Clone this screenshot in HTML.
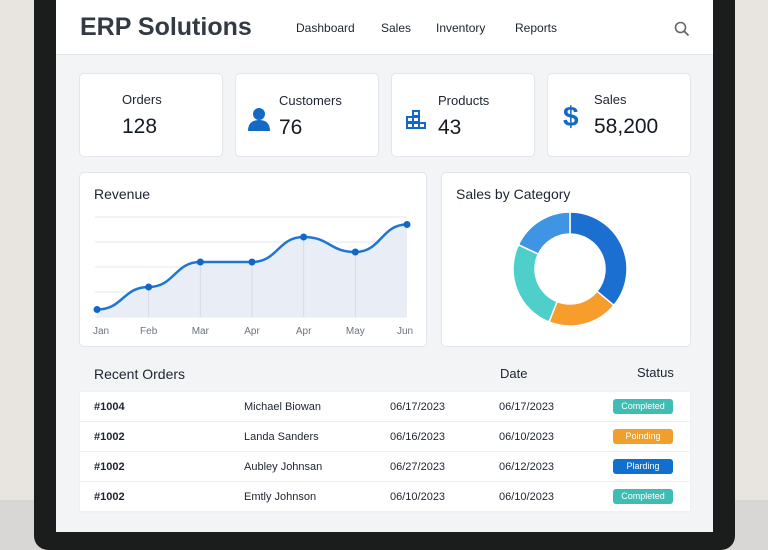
<!DOCTYPE html>
<html><head><meta charset="utf-8"><style>
*{box-sizing:border-box;margin:0;padding:0}
body{width:768px;height:550px;overflow:hidden;background:#e8e4e0;font-family:"Liberation Sans",sans-serif;position:relative;color:#1d2430}
.abs{position:absolute}
.card{position:absolute;background:#fff;border:1px solid #e2e6ea;border-radius:5px}
.lbl{font-size:13px;color:#1d2430}
.num{font-size:21px;color:#141a22}
.row{position:absolute;left:80px;width:610px;height:29px;background:#fff;font-size:11px}
.row span{position:absolute;top:9px}
.badge{position:absolute;left:533px;top:7px;width:60px;height:15px;border-radius:3px;color:#fff;font-size:9px;text-align:center;line-height:15px}
</style></head><body>
<div class="abs" style="left:0;top:500px;width:768px;height:50px;background:#d9d7d5"></div>
<div class="abs" style="left:34px;top:0;width:701px;height:550px;background:#1b1c1c;border-radius:0 0 14px 14px"></div>
<div class="abs" style="left:56px;top:0;width:657px;height:532px;background:#f2f4f6"></div>
<div class="abs" style="left:56px;top:0;width:657px;height:55px;background:#fff;border-bottom:1px solid #e1e4e8"></div>
<div class="abs" style="left:80px;top:13px;font-size:25px;font-weight:bold;color:#333a44">ERP Solutions</div>
<div class="abs" style="left:296px;top:21px;font-size:12px">Dashboard</div>
<div class="abs" style="left:381px;top:21px;font-size:12px">Sales</div>
<div class="abs" style="left:436px;top:21px;font-size:12px">Inventory</div>
<div class="abs" style="left:515px;top:21px;font-size:12px">Reports</div>
<svg class="abs" style="left:674px;top:21px" width="16" height="16"><circle cx="6.5" cy="6.5" r="5" fill="none" stroke="#666" stroke-width="1.6"/><line x1="10" y1="10" x2="14.5" y2="14.5" stroke="#666" stroke-width="1.8"/></svg>

<div class="card" style="left:79px;top:73px;width:144px;height:84px">
<div class="abs lbl" style="left:42px;top:18px">Orders</div><div class="abs num" style="left:42px;top:41px">128</div></div>
<div class="card" style="left:235px;top:73px;width:144px;height:84px">
<svg class="abs" style="left:12px;top:33px" width="22" height="24"><circle cx="11" cy="7" r="6" fill="#1469c7"/><path d="M0 24 Q0 13 11 13 Q22 13 22 24Z" fill="#1469c7"/></svg>
<div class="abs lbl" style="left:43px;top:19px">Customers</div><div class="abs num" style="left:43px;top:42px">76</div></div>
<div class="card" style="left:391px;top:73px;width:144px;height:84px">
<svg class="abs" style="left:14px;top:36px" width="20" height="20" fill="none" stroke="#1469c7" stroke-width="2"><rect x="7" y="1" width="6" height="5"/><rect x="1" y="7" width="6" height="5"/><rect x="7" y="7" width="6" height="5"/><rect x="1" y="13" width="6" height="5"/><rect x="7" y="13" width="6" height="5"/><rect x="13" y="13" width="6" height="5"/></svg>
<div class="abs lbl" style="left:46px;top:19px">Products</div><div class="abs num" style="left:46px;top:42px">43</div></div>
<div class="card" style="left:547px;top:73px;width:144px;height:84px">
<div class="abs" style="left:15px;top:27px;font-size:28px;font-weight:bold;color:#1469c7">$</div>
<div class="abs lbl" style="left:46px;top:18px">Sales</div><div class="abs num" style="left:46px;top:41px">58,200</div></div>

<div class="card" style="left:79px;top:172px;width:348px;height:175px"></div>
<div class="abs" style="left:94px;top:186px;font-size:14px">Revenue</div>
<svg class="abs" id="rev" style="left:0;top:0" width="440" height="350"></svg>

<div class="card" style="left:441px;top:172px;width:250px;height:175px"></div>
<div class="abs" style="left:456px;top:186px;font-size:14px">Sales by Category</div>
<svg class="abs" id="donut" style="left:0;top:0" width="768" height="350"></svg>

<div class="abs" style="left:94px;top:366px;font-size:14px">Recent Orders</div>
<div class="abs" style="left:500px;top:366px;font-size:13px">Date</div>
<div class="abs" style="left:637px;top:365px;font-size:13px">Status</div>
<div class="abs" style="left:79px;top:391px;width:612px;height:122px;background:#eef0f2;border-radius:2px"></div>
<div class="row" style="top:392px"><span style="left:14px;font-weight:bold">#1004</span><span style="left:164px">Michael Biowan</span><span style="left:310px">06/17/2023</span><span style="left:419px">06/17/2023</span><div class="badge" style="background:#3dbdb3">Completed</div></div>
<div class="row" style="top:422px"><span style="left:14px;font-weight:bold">#1002</span><span style="left:164px">Landa Sanders</span><span style="left:310px">06/16/2023</span><span style="left:419px">06/10/2023</span><div class="badge" style="background:#ee9f2e">Poinding</div></div>
<div class="row" style="top:452px"><span style="left:14px;font-weight:bold">#1002</span><span style="left:164px">Aubley Johnsan</span><span style="left:310px">06/27/2023</span><span style="left:419px">06/12/2023</span><div class="badge" style="background:#1170cf">Plarding</div></div>
<div class="row" style="top:482px"><span style="left:14px;font-weight:bold">#1002</span><span style="left:164px">Emtly Johnson</span><span style="left:310px">06/10/2023</span><span style="left:419px">06/10/2023</span><div class="badge" style="background:#3dbdb3">Completed</div></div>

<script>
const months = ["Jan","Feb","Mar","Apr","Apr","May","Jun"];
const revenue = [3, 12, 22, 22, 32, 26, 37];
const gridTicks = [0, 10, 20, 30, 40];
const catValues = [36, 20, 26, 18];
const catColors = ["#1a6fd0","#f79d2b","#4fcfc9","#3f95e4"];
const NS="http://www.w3.org/2000/svg";
function mk(svg,tag,attrs){const e=document.createElementNS(NS,tag);for(const k in attrs)e.setAttribute(k,attrs[k]);svg.appendChild(e);return e;}
const rev=document.getElementById('rev');
const x0=97,x1=407,yb=317,yt=217,vmax=40;
const xs=i=>x0+i*(x1-x0)/(months.length-1);
const ys=v=>yb-(v/vmax)*(yb-yt);
gridTicks.forEach(t=>{const g=mk(rev,'line',{x1:95,x2:407,y1:ys(t),y2:ys(t),stroke:'#e3e7eb','stroke-width':1});

});
let d='M'+xs(0)+','+ys(revenue[0]);
for(let i=1;i<revenue.length;i++){const xa=xs(i-1),xb=xs(i),m=(xb-xa)/2;d+=` C${xa+m},${ys(revenue[i-1])} ${xb-m},${ys(revenue[i])} ${xb},${ys(revenue[i])}`;}
const area=mk(rev,'path',{d:d+` L${xs(revenue.length-1)},${yb} L${xs(0)},${yb}Z`,fill:'#e9eef6'});


revenue.forEach((v,i)=>{if(i>0&&i<revenue.length-1){const l=mk(rev,'line',{x1:xs(i),x2:xs(i),y1:ys(v),y2:yb,stroke:'#d5dbe2','stroke-width':1});

}});
const line=mk(rev,'path',{d:d,fill:'none',stroke:'#1f76d2','stroke-width':2.5});


revenue.forEach((v,i)=>{const c=mk(rev,'circle',{cx:xs(i),cy:ys(v),r:3.5,fill:'#1366c6'});


const t=mk(rev,'text',{x:xs(i)+(i==0?4:i==months.length-1?-2:0),y:334,'text-anchor':'middle','font-size':10,fill:'#6b7380','font-family':'Liberation Sans'});t.textContent=months[i];

});
const dn=document.getElementById('donut');
const cx=570,cy=269,R=57,r=35;const tot=catValues.reduce((a,b)=>a+b,0);let a0=0;
catValues.forEach((v,i)=>{const a1=a0+v/tot*2*Math.PI;const p=(a,rr)=>[cx+rr*Math.sin(a),cy-rr*Math.cos(a)];
const [ax,ay]=p(a0,R),[bx,by]=p(a1,R),[cx2,cy2]=p(a1,r),[dx,dy]=p(a0,r);const lg=(a1-a0)>Math.PI?1:0;
const s=mk(dn,'path',{d:`M${ax},${ay} A${R},${R} 0 ${lg} 1 ${bx},${by} L${cx2},${cy2} A${r},${r} 0 ${lg} 0 ${dx},${dy}Z`,fill:catColors[i],stroke:'#fff','stroke-width':1.5});


a0=a1;});
</script>
</body></html>
